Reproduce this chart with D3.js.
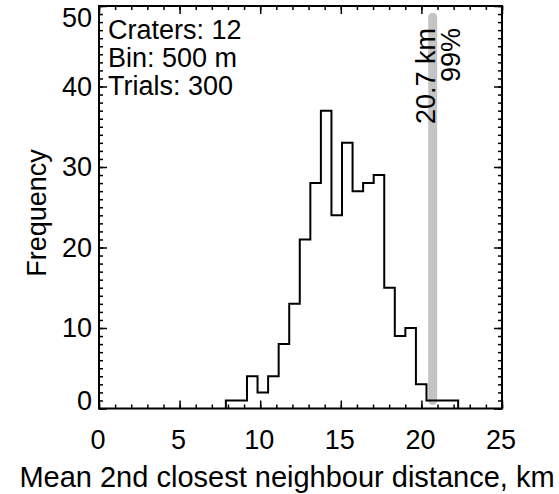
<!DOCTYPE html>
<html>
<head>
<meta charset="utf-8">
<script src="https://cdn.jsdelivr.net/npm/d3@7"></script>
<style>
    body { margin: 0; background: #fff; }
    text { font-family: "Liberation Sans", Arial, sans-serif; fill: #000; }
</style>
</head>
<body>
<script>

// histogram of simulated mean 2nd closest neighbour distances
const binStart = 7.87;
const binWidth = 0.655;
const counts = [1, 1, 4, 2, 4, 8, 13, 21, 28, 37, 24, 33, 27, 28, 29, 15, 9, 10, 3, 1, 1, 1];

// 99% threshold
const threshold = 20.7;
const thresholdLabels = ["20.7 km", "99%"];

const infoLines = ["Craters: 12", "Bin: 500 m", "Trials: 300"];
const xTicks = [0, 5, 10, 15, 20, 25];
const yTicks = [0, 10, 20, 30, 40, 50];

const w = 559;
const h = 494;
const fontSize = 27;

let svg = d3.select("body")
            .append("svg")
            .attr("width", w)
            .attr("height", h);

let xScale = d3.scaleLinear()
               .domain([0, 25])
               .range([99, 502]);

let yScale = d3.scaleLinear()
               .domain([0, 50])
               .range([408.5, 6]);

// gray threshold bar
svg.append("line")
   .attr("x1", xScale(threshold))
   .attr("x2", xScale(threshold))
   .attr("y1", yScale(1))
   .attr("y2", yScale(48.6))
   .attr("stroke", "#c4c4c4")
   .attr("stroke-width", 9)
   .attr("stroke-linecap", "round");

// step outline of the histogram
let steps = [[binStart, 0]];
counts.forEach(function(c, i) {
    steps.push([binStart + i * binWidth, c]);
    steps.push([binStart + (i + 1) * binWidth, c]);
});
steps.push([binStart + counts.length * binWidth, 0]);

svg.append("path")
   .datum(steps)
   .attr("fill", "none")
   .attr("stroke", "#000")
   .attr("stroke-width", 2)
   .attr("stroke-linejoin", "miter")
   .attr("d", d3.line()
                .x(function(d) { return xScale(d[0]); })
                .y(function(d) { return yScale(d[1]); }));

// axes with minor ticks every unit, mirrored on top and right
function addAxes() {
    let xMinor = d3.range(0, 26);
    let yMinor = d3.range(0, 51);

    let bottom = svg.append("g")
                    .attr("transform", "translate(0," + yScale(0) + ")")
                    .call(d3.axisTop(xScale).tickValues(xMinor)
                            .tickSize(4).tickFormat(""));
    bottom.append("g")
          .call(d3.axisTop(xScale).tickValues(xTicks)
                  .tickSize(8).tickFormat(""));

    let top = svg.append("g")
                 .attr("transform", "translate(0," + yScale(50) + ")")
                 .call(d3.axisBottom(xScale).tickValues(xMinor)
                         .tickSize(4).tickFormat(""));
    top.append("g")
       .call(d3.axisBottom(xScale).tickValues(xTicks)
               .tickSize(8).tickFormat(""));

    let left = svg.append("g")
                  .attr("transform", "translate(" + xScale(0) + ",0)")
                  .call(d3.axisRight(yScale).tickValues(yMinor)
                          .tickSize(4).tickFormat(""));
    left.append("g")
        .call(d3.axisRight(yScale).tickValues(yTicks)
                .tickSize(8).tickFormat(""));

    let right = svg.append("g")
                   .attr("transform", "translate(" + xScale(25) + ",0)")
                   .call(d3.axisLeft(yScale).tickValues(yMinor)
                           .tickSize(4).tickFormat(""));
    right.append("g")
         .call(d3.axisLeft(yScale).tickValues(yTicks)
                 .tickSize(8).tickFormat(""));

    svg.selectAll(".domain").remove();
    svg.selectAll(".tick line")
       .attr("stroke", "#000")
       .attr("stroke-width", 1.5);

    // plot frame
    svg.append("rect")
       .attr("x", xScale(0))
       .attr("y", yScale(50))
       .attr("width", xScale(25) - xScale(0))
       .attr("height", yScale(0) - yScale(50))
       .attr("fill", "none")
       .attr("stroke", "#000")
       .attr("stroke-width", 2);
}
addAxes();

// tick labels
svg.selectAll(".xlabel")
   .data(xTicks)
   .enter()
   .append("text")
   .attr("class", "xlabel")
   .attr("x", function(d) { return xScale(d) - 1; })
   .attr("y", 449)
   .attr("text-anchor", "middle")
   .style("font-size", fontSize + "px")
   .text(function(d) { return d; });

svg.selectAll(".ylabel")
   .data(yTicks)
   .enter()
   .append("text")
   .attr("class", "ylabel")
   .attr("x", 92)
   .attr("y", function(d) {
        let y = yScale(d);
        if (d == 50) y += 12;
        if (d == 0) y -= 8;
        return y;
   })
   .attr("dy", "0.35em")
   .attr("text-anchor", "end")
   .style("font-size", fontSize + "px")
   .text(function(d) { return d; });

// axis titles
svg.append("text")
   .attr("x", 287)
   .attr("y", 487)
   .attr("text-anchor", "middle")
   .style("font-size", "29px")
   .text("Mean 2nd closest neighbour distance, km");

svg.append("text")
   .attr("transform", "translate(46,213) rotate(-90)")
   .attr("text-anchor", "middle")
   .style("font-size", fontSize + "px")
   .text("Frequency");

// run info in the top left corner
svg.selectAll(".info")
   .data(infoLines)
   .enter()
   .append("text")
   .attr("class", "info")
   .attr("x", 108)
   .attr("y", function(d, i) { return 39 + i * 28; })
   .style("font-size", fontSize + "px")
   .text(function(d) { return d; });

// threshold labels, rotated along the bar
svg.selectAll(".thresh")
   .data(thresholdLabels)
   .enter()
   .append("text")
   .attr("class", "thresh")
   .attr("transform", function(d, i) {
        return "translate(" + (xScale(threshold) + 2 + i * 25) + ",28) rotate(-90)";
   })
   .attr("text-anchor", "end")
   .style("font-size", fontSize + "px")
   .text(function(d) { return d; });

</script>
</body>
</html>
